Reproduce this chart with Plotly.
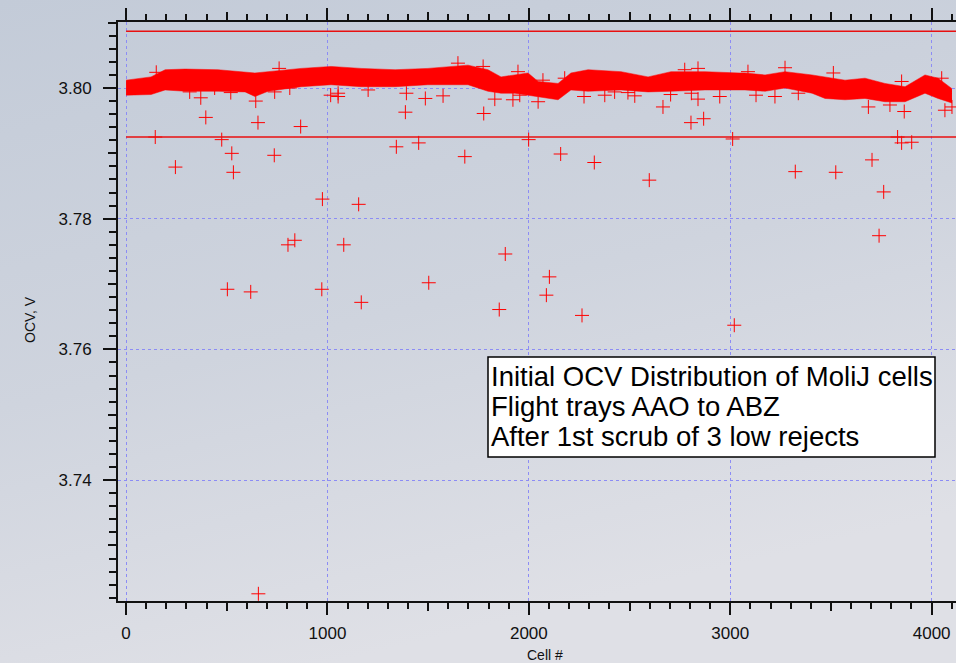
import plotly.graph_objects as go

# ---- data ----
# dense band of cells: visible upper / lower extent vs cell number
band_cell = [0, 60, 124, 194, 293, 457, 591, 640, 705, 869, 1018, 1167, 1336, 1499, 1698,
             1797, 1862, 1931, 1996, 2046, 2145, 2209, 2294, 2458, 2592, 2706, 2875, 3044,
             3073, 3173, 3272, 3406, 3471, 3570, 3669, 3768, 3868, 3967, 4032, 4101]
band_hi = [3.8012, 3.8014, 3.8017, 3.8028, 3.8029, 3.8028, 3.8025, 3.8023, 3.8025, 3.8030,
           3.8033, 3.8030, 3.8028, 3.8030, 3.8035, 3.8028, 3.8017, 3.8020, 3.8023, 3.8010,
           3.8007, 3.8023, 3.8028, 3.8025, 3.8017, 3.8025, 3.8025, 3.8023, 3.8023, 3.8020,
           3.8025, 3.8020, 3.8017, 3.8012, 3.8015, 3.8007, 3.8002, 3.8020, 3.8015, 3.7999]
band_lo = [3.7989, 3.7989, 3.7990, 3.7997, 3.7995, 3.7995, 3.7994, 3.7987, 3.7995, 3.8002,
           3.8005, 3.8002, 3.8002, 3.8005, 3.8005, 3.7995, 3.7992, 3.7992, 3.7989, 3.7987,
           3.7982, 3.7997, 3.7995, 3.7997, 3.7994, 3.7995, 3.7997, 3.7997, 3.7997, 3.7995,
           3.8000, 3.7992, 3.7984, 3.7982, 3.7984, 3.7979, 3.7979, 3.7992, 3.7984, 3.7977]

# individual cells standing out from the band
out_cell = [396, 655, 867, 1387, 1776, 145, 475, 525, 736, 245, 533, 1342, 1453, 1682, 1999,
            975, 1155, 804, 838, 1081, 1883, 503, 619, 972, 1503, 1168, 1853, 657,
            2805, 2868, 3864, 3012, 3851, 3901, 3831, 2158, 2325, 2598, 3323, 3524, 3704,
            3762, 3739, 2102, 2087, 2264, 3020,
            150, 371, 316, 440, 520, 644, 738, 760, 813, 1016, 1648, 1773, 1053, 1053, 1202,
            1392, 1486, 1574, 1831, 1921, 1955, 2046, 1946, 2070, 2178, 2274, 2377, 2426,
            2526, 2492, 2704, 2666, 2807, 2840, 2948, 2774, 2840, 3088, 3272, 3128, 3222,
            3338, 3512, 3686, 3793, 3851, 4050, 4066, 4101]
out_ocv = [3.7955, 3.7947, 3.7941, 3.7963, 3.7961, 3.7925, 3.7921, 3.7900, 3.7897, 3.7879,
           3.7871, 3.7910, 3.7916, 3.7895, 3.7921, 3.7830, 3.7822, 3.7760, 3.7767, 3.7760,
           3.7746, 3.7692, 3.7688, 3.7692, 3.7702, 3.7672, 3.7661, 3.7226,
           3.7947, 3.7953, 3.7964, 3.7922, 3.7916, 3.7917, 3.7925, 3.7899, 3.7886, 3.7859,
           3.7872, 3.7871, 3.7890, 3.7841, 3.7774, 3.7711, 3.7683, 3.7652, 3.7637,
           3.8024, 3.7985, 3.7994, 3.8000, 3.7993, 3.7980, 3.7994, 3.8030, 3.8000, 3.7989,
           3.8038, 3.8033, 3.7992, 3.7987, 3.7997, 3.7992, 3.7984, 3.7988, 3.7983, 3.7982,
           3.7989, 3.7979, 3.8025, 3.8012, 3.8015, 3.7987, 3.7989, 3.7994, 3.7988, 3.7993,
           3.7990, 3.7971, 3.7992, 3.7983, 3.7987, 3.8028, 3.8030, 3.8025, 3.8031, 3.7989,
           3.7987, 3.7992, 3.8023, 3.7971, 3.7974, 3.8010, 3.8015, 3.7966, 3.7971]

limit_cell = [0, 4121]
upper_limit = 3.8087
lower_limit = 3.7925

x_ticks = [0, 1000, 2000, 3000, 4000]
y_ticks = [3.74, 3.76, 3.78, 3.80]
x_mid_ticks = [500, 1500, 2500, 3500]
y_mid_ticks = [3.73, 3.75, 3.77, 3.79, 3.81]

note_lines = ["Initial OCV Distribution of MoliJ cells",
              "Flight trays AAO to ABZ",
              "After 1st scrub of 3 low rejects"]

X_RANGE = [-40, 4121]
Y_RANGE = [3.7215, 3.8101]

RED = "#ff0000"
FONT = "Liberation Sans, Arial, sans-serif"

fig = go.Figure()

fig.add_trace(go.Scatter(x=band_cell, y=band_lo, mode="lines",
                         line=dict(color=RED, width=0.5), showlegend=False, hoverinfo="skip"))
fig.add_trace(go.Scatter(x=band_cell, y=band_hi, mode="lines", fill="tonexty",
                         fillcolor=RED, line=dict(color=RED, width=0.5),
                         showlegend=False, hoverinfo="skip"))
fig.add_trace(go.Scatter(x=out_cell, y=out_ocv, mode="markers",
                         marker=dict(symbol="cross-thin", size=10,
                                     line=dict(color=RED, width=1)),
                         showlegend=False))
for lim in (upper_limit, lower_limit):
    fig.add_trace(go.Scatter(x=limit_cell, y=[lim, lim], mode="lines",
                             line=dict(color="#e81010", width=1.5),
                             showlegend=False, hoverinfo="skip"))

# background gradient
svg = ("data:image/svg+xml;utf8,"
       "<svg xmlns='http://www.w3.org/2000/svg' width='956' height='663'>"
       "<defs><linearGradient id='g' x1='0' y1='0' x2='0.35' y2='1'>"
       "<stop offset='0' stop-color='%23c3cbd8'/>"
       "<stop offset='0.55' stop-color='%23cfd4de'/>"
       "<stop offset='1' stop-color='%23dfe0e6'/>"
       "</linearGradient></defs>"
       "<rect width='956' height='663' fill='url(%23g)'/></svg>")

L, T, B = 118, 22, 62
W, H = 956, 663
pw, ph = W - L, H - T - B


def px_x(p):
    return (p - L) / pw


def px_y(p):
    return (H - B - p) / ph


fig.update_layout(
    width=W, height=H,
    margin=dict(l=L, r=0, t=T, b=B, pad=0, autoexpand=False),
    paper_bgcolor="#ccd2dc",
    plot_bgcolor="rgba(0,0,0,0)",
    font=dict(family=FONT, color="#111111", size=17),
    images=[dict(source=svg, xref="paper", yref="paper",
                 x=-L / pw, y=1 + T / ph, sizex=W / pw, sizey=H / ph,
                 xanchor="left", yanchor="top", sizing="stretch", layer="below")],
    xaxis=dict(range=X_RANGE, tickmode="array", tickvals=x_ticks, automargin=False,
               ticks="outside", ticklen=12, tickwidth=2, tickcolor="#111111",
               showline=True, linewidth=2, linecolor="#111111", mirror="ticks",
               showgrid=True, gridcolor="#8c8cf5", griddash="dot", gridwidth=1,
               zeroline=False, ticklabelstandoff=4,
               minor=dict(dtick=100, tick0=0, ticks="outside", ticklen=6,
                          tickwidth=1.5, tickcolor="#111111", showgrid=False)),
    yaxis=dict(range=Y_RANGE, tickmode="array", tickvals=y_ticks, automargin=False,
               tickformat=".2f",
               ticks="outside", ticklen=13, tickwidth=2, tickcolor="#111111",
               showline=True, linewidth=2, linecolor="#111111", mirror=False,
               showgrid=True, gridcolor="#8c8cf5", griddash="dot", gridwidth=1,
               zeroline=False, ticklabelstandoff=8,
               minor=dict(dtick=0.002, tick0=3.72, ticks="outside", ticklen=7,
                          tickwidth=1.5, tickcolor="#111111", showgrid=False)),
    xaxis2=dict(range=X_RANGE, overlaying="x", anchor="y", side="bottom", automargin=False,
                tickmode="array", tickvals=x_mid_ticks, ticks="outside", ticklen=9,
                tickwidth=1.5, tickcolor="#111111", showticklabels=False,
                showline=False, mirror="ticks", showgrid=False, zeroline=False),
    yaxis2=dict(range=Y_RANGE, overlaying="y", anchor="x", side="left", automargin=False,
                tickmode="array", tickvals=y_mid_ticks, ticks="outside", ticklen=9,
                tickwidth=1.5, tickcolor="#111111", showticklabels=False,
                showline=False, showgrid=False, zeroline=False),
)

# invisible trace so the overlay axes render
fig.add_trace(go.Scatter(x=[None], y=[None], xaxis="x2", yaxis="y2",
                         showlegend=False, hoverinfo="skip"))

# note box
fig.add_shape(type="rect", xref="paper", yref="paper",
              x0=px_x(488), x1=px_x(935), y0=px_y(457), y1=px_y(357),
              fillcolor="white", line=dict(color="black", width=1.5), layer="above")
for i, line in enumerate(note_lines):
    fig.add_annotation(text=line, xref="paper", yref="paper",
                       x=px_x(489), y=px_y(376 + 30 * i),
                       xanchor="left", yanchor="middle", align="left", showarrow=False,
                       font=dict(family=FONT, size=27.5, color="black"))

fig.add_annotation(text="OCV, V", xref="paper", yref="paper",
                   x=px_x(30), y=px_y(320), textangle=-90,
                   xanchor="center", yanchor="middle",
                   showarrow=False, font=dict(family=FONT, size=14, color="#111111"))
fig.add_annotation(text="Cell #", xref="paper", yref="paper",
                   x=px_x(545), y=px_y(655),
                   xanchor="center", yanchor="middle",
                   showarrow=False, font=dict(family=FONT, size=14, color="#111111"))

fig.write_html("out.html",
               config={"displayModeBar": False},
               post_script="document.body.style.margin='0px';"
                           "document.body.style.overflow='hidden';")
